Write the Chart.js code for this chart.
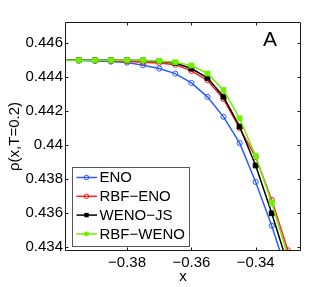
<!DOCTYPE html>
<html>
<head>
<meta charset="utf-8">
<script src="https://cdn.jsdelivr.net/npm/chart.js@4"></script>
<style>
html,body{margin:0;padding:0;background:#fff;}
canvas{display:block;}
</style>
</head>
<body>
<canvas id="c" width="332" height="287"></canvas>
<script>
// ---- data ----
const xValues = [-0.4, -0.395, -0.39, -0.385, -0.38, -0.375, -0.37, -0.365, -0.36, -0.355, -0.35, -0.345, -0.34, -0.335, -0.33];
const eno     = [0.4450, 0.44498, 0.44496, 0.44492, 0.44486, 0.44471, 0.44451, 0.44421, 0.44366, 0.44284, 0.44166, 0.44012, 0.43782, 0.43524, 0.43229];
const rbfEno  = [0.4450, 0.4450, 0.4450, 0.44498, 0.44494, 0.44488, 0.44484, 0.44474, 0.44437, 0.44382, 0.44271, 0.44100, 0.43929, 0.43676, 0.43379];
const wenoJs  = [0.4450, 0.4450, 0.4450, 0.4450, 0.4450, 0.44499, 0.44494, 0.44484, 0.44451, 0.44396, 0.44285, 0.44109, 0.43879, 0.43597, 0.43294];
const rbfWeno = [0.4450, 0.4450, 0.4450, 0.4450, 0.4450, 0.4450, 0.44496, 0.44488, 0.44469, 0.44422, 0.44324, 0.44157, 0.43935, 0.43659, 0.43347];
const seriesNames = ['ENO', 'RBF\u2212ENO', 'WENO\u2212JS', 'RBF\u2212WENO'];
const xTicks = [-0.38, -0.36, -0.34];
const xTickLabels = ['\u22120.38', '\u22120.36', '\u22120.34'];
const yTicks = [0.434, 0.436, 0.438, 0.44, 0.442, 0.444, 0.446];
const yTickLabels = ['0.434', '0.436', '0.438', '0.44', '0.442', '0.444', '0.446'];
const xTitle = 'x';
const yTitle = '\u03C1(x,T=0.2)';
const panelLabel = 'A';

const FONT = '"Liberation Sans", Arial, Helvetica, sans-serif';
const colors = ['#2e5bff', '#ff1f1f', '#000000', '#6ff000'];
const styles = ['circle', 'circle', 'rect', 'rect'];
const radii = [2.6, 2.6, 3.4, 3.4];
const fills = ['rgba(0,0,0,0)', 'rgba(0,0,0,0)', '#000000', '#6ff000'];
const allSeries = [eno, rbfEno, wenoJs, rbfWeno];

const datasets = allSeries.map((s, i) => ({
  label: seriesNames[i],
  data: xValues.map((x, j) => ({x: x, y: s[j]})),
  borderColor: colors[i],
  backgroundColor: fills[i],
  borderWidth: 1.5,
  pointStyle: styles[i],
  pointRadius: radii[i],
  pointBorderColor: colors[i],
  pointBackgroundColor: fills[i],
  pointBorderWidth: 1,
  tension: 0,
  fill: false,
  clip: 0,
  order: 4 - i
}));

const framePlugin = {
  id: 'frame',
  afterDatasetsDraw(chart) {
    const ctx = chart.ctx;
    const a = chart.chartArea;
    const xs = chart.scales.x, ys = chart.scales.y;
    ctx.save();
    ctx.strokeStyle = '#1a1a1a';
    ctx.lineWidth = 1;
    const L = Math.round(a.left) + 0.5, R = Math.round(a.right) - 0.5;
    const T = Math.round(a.top) + 0.5, B = Math.round(a.bottom) - 0.5;
    ctx.beginPath();
    ctx.rect(L, T, R - L, B - T);
    ctx.stroke();
    const tl = 3;
    ctx.beginPath();
    xTicks.forEach(v => {
      const px = Math.round(xs.getPixelForValue(v)) + 0.5;
      ctx.moveTo(px, B); ctx.lineTo(px, B - tl);
      ctx.moveTo(px, T); ctx.lineTo(px, T + tl);
    });
    yTicks.forEach(v => {
      const py = Math.round(ys.getPixelForValue(v)) + 0.5;
      ctx.moveTo(L, py); ctx.lineTo(L + tl, py);
      ctx.moveTo(R, py); ctx.lineTo(R - tl, py);
    });
    ctx.stroke();

    // panel label
    ctx.fillStyle = '#000';
    ctx.font = '21px ' + FONT;
    ctx.textBaseline = 'alphabetic';
    ctx.textAlign = 'left';
    ctx.fillText(panelLabel, a.left + 198, a.top + 24);

    // legend
    const lx = a.left + 7, ly = a.top + 144.5, lw = 117, lh = 79;
    ctx.fillStyle = '#fff';
    ctx.fillRect(lx, ly, lw, lh);
    ctx.strokeStyle = '#555';
    ctx.lineWidth = 1;
    ctx.strokeRect(Math.round(lx) + 0.5, Math.round(ly) + 0.5, lw, lh);
    ctx.font = '15px ' + FONT;
    ctx.textBaseline = 'middle';
    chart.data.datasets.forEach((ds, i) => {
      const cy = ly + 11 + i * 18.8;
      ctx.strokeStyle = ds.borderColor;
      ctx.lineWidth = 1.5;
      ctx.beginPath();
      ctx.moveTo(lx + 4.5, cy); ctx.lineTo(lx + 25, cy);
      ctx.stroke();
      const mx = lx + 14.5;
      ctx.lineWidth = 1;
      if (ds.pointStyle === 'circle') {
        ctx.beginPath();
        ctx.arc(mx, cy, 2.3, 0, Math.PI * 2);
        ctx.stroke();
      } else {
        ctx.fillStyle = ds.pointBackgroundColor;
        ctx.fillRect(mx - 2.2, cy - 2.2, 4.4, 4.4);
      }
      ctx.fillStyle = '#000';
      ctx.fillText(ds.label, lx + 27.5, cy + 0.5);
    });
    ctx.restore();
  }
};

new Chart(document.getElementById('c'), {
  type: 'line',
  data: { datasets: datasets },
  options: {
    responsive: false,
    devicePixelRatio: 1,
    animation: false,
    layout: { padding: { left: 0, top: 22, right: 31, bottom: 0 } },
    plugins: { legend: { display: false }, tooltip: { enabled: false } },
    scales: {
      x: {
        type: 'linear',
        min: -0.3993,
        max: -0.3259,
        grid: { display: false, drawTicks: false },
        border: { display: false },
        afterBuildTicks: s => { s.ticks = xTicks.map(v => ({ value: v })); },
        afterFit: s => { s.height = 36; },
        ticks: {
          autoSkip: false,
          maxRotation: 0,
          padding: 3,
          color: '#000',
          font: { family: FONT, size: 15 },
          callback: (v, i) => xTickLabels[i]
        },
        title: { display: true, text: xTitle, color: '#000', font: { family: FONT, size: 15 }, padding: { top: 0, bottom: 1 } }
      },
      y: {
        type: 'linear',
        min: 0.433747,
        max: 0.447255,
        grid: { display: false, drawTicks: false },
        border: { display: false },
        afterBuildTicks: s => { s.ticks = yTicks.map(v => ({ value: v })); },
        afterFit: s => { s.width = 65; },
        ticks: {
          autoSkip: false,
          padding: 2,
          color: '#000',
          font: { family: FONT, size: 15 },
          callback: (v, i) => yTickLabels[i]
        },
        title: { display: true, text: yTitle, color: '#000', font: { family: FONT, size: 15 }, padding: { top: 6, bottom: 0 } }
      }
    }
  },
  plugins: [framePlugin]
});
</script>
</body>
</html>
